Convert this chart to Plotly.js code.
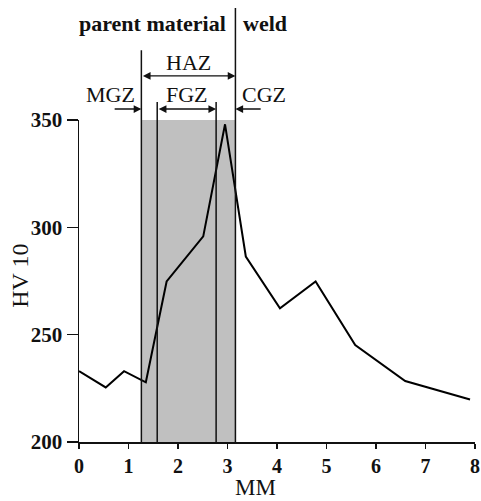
<!DOCTYPE html>
<html>
<head>
<meta charset="utf-8">
<script src="https://cdn.plot.ly/plotly-3.0.1.min.js"></script>
<style>html,body{margin:0;padding:0;background:#fff;}#chart{width:481px;height:501px;}</style>
</head>
<body>
<div id="chart"></div>
<script>
// Hardness profile (distance in mm, HV 10)
const distanceMM = [0, 0.54, 0.91, 1.35, 1.77, 2.51, 2.95, 3.37, 4.06, 4.78, 5.58, 6.59, 7.9];
const hardnessHV10 = [233, 225.4, 233, 227.8, 274.8, 295.8, 348, 286.4, 262.3, 274.8, 245.2, 228.4, 219.8];

// Zone boundaries (mm)
const hazStart = 1.26;
const fgzStart = 1.58;
const fgzEnd = 2.77;
const weldLine = 3.16;

const xTickVals = [0, 1, 2, 3, 4, 5, 6, 7, 8];
const yTickVals = [200, 250, 300, 350];
const yRange = [200, 350];

const serif = 'Liberation Serif, Times New Roman, serif';

const vline = (x, yTopPaper) => ({
  type: 'line', xref: 'x', yref: 'paper', x0: x, x1: x, y0: 0, y1: yTopPaper,
  line: {color: '#111', width: 1.5}, layer: 'above'
});

const shapes = [
  {type: 'rect', xref: 'x', yref: 'y', x0: hazStart, x1: weldLine, y0: yRange[0], y1: yRange[1],
   fillcolor: '#c0c0c0', line: {width: 0}, layer: 'below'},
  vline(hazStart, 1.217),
  vline(fgzStart, 1.056),
  vline(fgzEnd, 1.056),
  vline(weldLine, 1.348)
];

const arrow = (xHead, xTail, yPaper, both) => ({
  xref: 'x', yref: 'paper', x: xHead, y: yPaper, axref: 'x', ayref: 'pixel', ax: xTail, ay: 0,
  text: '', showarrow: true, arrowhead: 2, arrowsize: 1.1, arrowwidth: 1.4,
  arrowcolor: '#111', arrowside: both ? 'end+start' : 'end', standoff: 0, startstandoff: 0
});

const label = (text, x, yPaper, anchor, size, bold) => ({
  xref: 'x', yref: 'paper', x: x, y: yPaper, xanchor: anchor, yanchor: 'middle',
  text: bold ? '<b>' + text + '</b>' : text, showarrow: false,
  font: {family: serif, size: size, color: '#111'}
});

const annotations = [
  label('parent material', 3.0, 1.301, 'right', 22, true),
  label('weld', 3.27, 1.301, 'left', 22, true),
  label('HAZ', 2.22, 1.180, 'center', 22, false),
  label('MGZ', 0.63, 1.078, 'center', 22, false),
  label('FGZ', 2.18, 1.078, 'center', 22, false),
  label('CGZ', 3.73, 1.078, 'center', 22, false),
  arrow(weldLine, hazStart, 1.137, true),
  arrow(fgzEnd, fgzStart, 1.034, true),
  arrow(hazStart, 0.69, 1.034, false),
  arrow(weldLine, 3.70, 1.034, false),
  {xref: 'paper', yref: 'paper', x: 0.446, y: -0.142, xanchor: 'center', yanchor: 'middle',
   text: 'MM', showarrow: false, font: {family: serif, size: 23, color: '#111'}},
  {xref: 'paper', yref: 'paper', x: -0.149, y: 0.516, xanchor: 'center', yanchor: 'middle',
   text: 'HV 10', textangle: -90, showarrow: false, font: {family: serif, size: 24, color: '#111'}}
];

const trace = {
  x: distanceMM, y: hardnessHV10, type: 'scatter', mode: 'lines',
  line: {color: '#000', width: 2}, cliponaxis: false, hoverinfo: 'skip'
};

const layout = {
  width: 481, height: 501,
  margin: {l: 79, r: 6, t: 120, b: 59, pad: 0},
  paper_bgcolor: '#fff', plot_bgcolor: 'rgba(0,0,0,0)',
  showlegend: false,
  xaxis: {
    range: [0, 8], tickvals: xTickVals, ticktext: xTickVals.map(String),
    ticks: 'outside', ticklen: 5, tickwidth: 1.5, tickcolor: '#111',
    showline: true, linecolor: '#111', linewidth: 1.5, showgrid: false, zeroline: false,
    tickfont: {family: serif, size: 20, color: '#111', weight: 'bold'}, fixedrange: true
  },
  yaxis: {
    range: yRange, tickvals: yTickVals, ticktext: yTickVals.map(String),
    ticks: 'outside', ticklen: 11, tickwidth: 1.5, tickcolor: '#111',
    showline: true, linecolor: '#111', linewidth: 1.5, showgrid: false, zeroline: false,
    tickfont: {family: serif, size: 21, color: '#111', weight: 'bold'}, fixedrange: true
  },
  shapes: shapes,
  annotations: annotations
};

Plotly.newPlot('chart', [trace], layout, {displayModeBar: false, staticPlot: true});
</script>
</body>
</html>
